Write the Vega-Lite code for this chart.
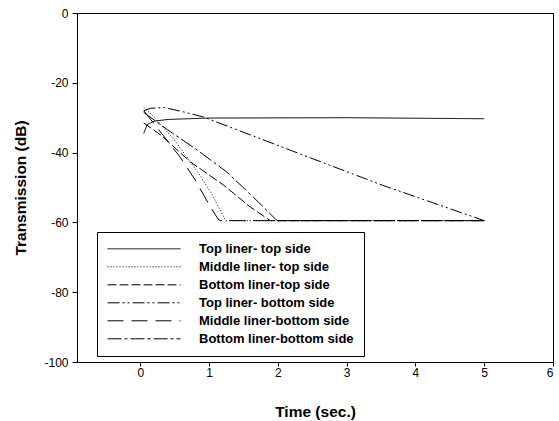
{
  "$schema": "https://vega.github.io/schema/vega-lite/v6.json",
  "width": 476,
  "height": 349,
  "autosize": {"type": "none"},
  "padding": {"left": 77, "top": 13, "right": 6, "bottom": 59},
  "background": "white",
  "config": {
    "font": "Liberation Sans",
    "view": {"stroke": "black", "strokeWidth": 1},
    "axis": {"grid": false, "domainColor": "black", "tickColor": "black", "labelColor": "black", "titleColor": "black", "labelFont": "Liberation Sans", "titleFont": "Liberation Sans", "labelFontSize": 12, "titleFontSize": 15.5, "titleFontWeight": "bold", "tickSize": 5, "domainWidth": 1}
  },
  "data": {
    "values": [
      {"series": "Top liner- top side", "t": 0.05, "db": -34.5},
      {"series": "Top liner- top side", "t": 0.1, "db": -32},
      {"series": "Top liner- top side", "t": 0.2, "db": -31},
      {"series": "Top liner- top side", "t": 0.4, "db": -30.5},
      {"series": "Top liner- top side", "t": 1, "db": -30.1},
      {"series": "Top liner- top side", "t": 3, "db": -30},
      {"series": "Top liner- top side", "t": 5, "db": -30.3},

      {"series": "Middle liner- top side", "t": 0.05, "db": -27},
      {"series": "Middle liner- top side", "t": 0.2, "db": -29.8},
      {"series": "Middle liner- top side", "t": 0.48, "db": -36},
      {"series": "Middle liner- top side", "t": 0.85, "db": -46},
      {"series": "Middle liner- top side", "t": 1.05, "db": -52.2},
      {"series": "Middle liner- top side", "t": 1.24, "db": -59.5},
      {"series": "Middle liner- top side", "t": 5, "db": -59.5},

      {"series": "Bottom liner-top side", "t": 0.05, "db": -31.5},
      {"series": "Bottom liner-top side", "t": 0.3, "db": -35},
      {"series": "Bottom liner-top side", "t": 0.73, "db": -42.7},
      {"series": "Bottom liner-top side", "t": 1.21, "db": -49.3},
      {"series": "Bottom liner-top side", "t": 1.6, "db": -55.6},
      {"series": "Bottom liner-top side", "t": 1.89, "db": -59.5},
      {"series": "Bottom liner-top side", "t": 5, "db": -59.5},

      {"series": "Top liner- bottom side", "t": 0.05, "db": -28},
      {"series": "Top liner- bottom side", "t": 0.15, "db": -27.3},
      {"series": "Top liner- bottom side", "t": 0.35, "db": -27.1},
      {"series": "Top liner- bottom side", "t": 0.6, "db": -28.2},
      {"series": "Top liner- bottom side", "t": 0.92, "db": -29.8},
      {"series": "Top liner- bottom side", "t": 2.18, "db": -39.3},
      {"series": "Top liner- bottom side", "t": 3.5, "db": -49.2},
      {"series": "Top liner- bottom side", "t": 5, "db": -59.5},

      {"series": "Middle liner-bottom side", "t": 0.05, "db": -28},
      {"series": "Middle liner-bottom side", "t": 0.33, "db": -35},
      {"series": "Middle liner-bottom side", "t": 0.58, "db": -41.3},
      {"series": "Middle liner-bottom side", "t": 0.8, "db": -47.9},
      {"series": "Middle liner-bottom side", "t": 1.02, "db": -55.6},
      {"series": "Middle liner-bottom side", "t": 1.13, "db": -59},
      {"series": "Middle liner-bottom side", "t": 1.16, "db": -59.5},
      {"series": "Middle liner-bottom side", "t": 5, "db": -59.5},

      {"series": "Bottom liner-bottom side", "t": 0.05, "db": -28.5},
      {"series": "Bottom liner-bottom side", "t": 0.4, "db": -33.5},
      {"series": "Bottom liner-bottom side", "t": 0.83, "db": -39.3},
      {"series": "Bottom liner-bottom side", "t": 1.26, "db": -45.6},
      {"series": "Bottom liner-bottom side", "t": 1.64, "db": -52.7},
      {"series": "Bottom liner-bottom side", "t": 1.99, "db": -59.5},
      {"series": "Bottom liner-bottom side", "t": 5, "db": -59.5}
    ]
  },
  "mark": {"type": "line", "color": "black", "strokeWidth": 1, "clip": true},
  "encoding": {
    "x": {
      "field": "t", "type": "quantitative", "title": "Time (sec.)",
      "scale": {"domain": [-0.92, 6], "nice": false, "zero": false},
      "axis": {"values": [0, 1, 2, 3, 4, 5, 6], "labelPadding": 1, "titlePadding": 26, "tickSize": 4}
    },
    "y": {
      "field": "db", "type": "quantitative", "title": "Transmission (dB)",
      "scale": {"domain": [-100, 0], "nice": false},
      "axis": {"values": [-100, -80, -60, -40, -20, 0], "labelExpr": "datum.value + ''", "labelPadding": 4, "titlePadding": 15}
    },
    "order": {"field": "t", "type": "quantitative"},
    "strokeDash": {
      "field": "series", "type": "nominal",
      "scale": {
        "domain": ["Top liner- top side", "Middle liner- top side", "Bottom liner-top side", "Top liner- bottom side", "Middle liner-bottom side", "Bottom liner-bottom side"],
        "range": [[1, 0], [1, 2], [9, 3], [12, 3, 2, 3, 2, 3], [16, 8], [14, 3, 3, 3]]
      },
      "legend": {
        "title": null,
        "orient": "none",
        "legendX": 20,
        "legendY": 219,
        "direction": "vertical",
        "symbolType": "stroke",
        "symbolSize": 5329,
        "clipHeight": 13.6,
        "symbolStrokeColor": "black",
        "symbolStrokeWidth": 1,
        "labelFont": "Liberation Sans",
        "labelFontSize": 13,
        "labelFontWeight": "bold",
        "labelColor": "black",
        "labelOffset": 18,
        "labelLimit": 300,
        "padding": 10,
        "rowPadding": 4,
        "strokeColor": "black",
        "fillColor": "white"
      }
    }
  }
}
